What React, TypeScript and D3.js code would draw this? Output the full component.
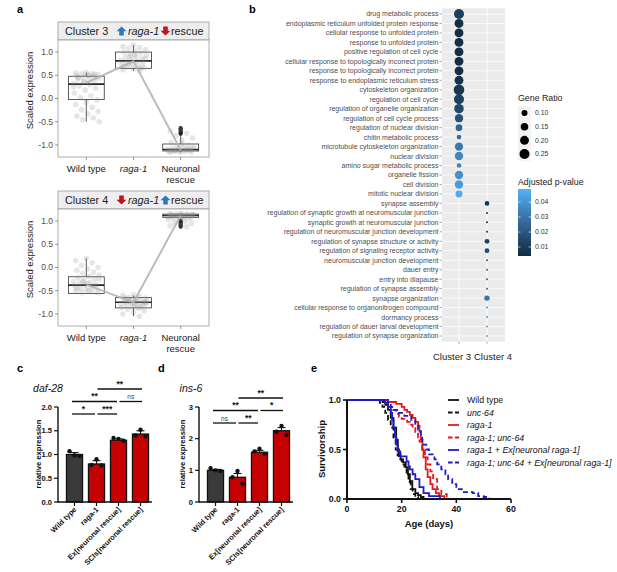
import React from "react";
import * as d3 from "d3";

const FONT = "Liberation Sans, Arial, Helvetica, sans-serif";

// ---------------- Panel a data ----------------
const groupsA = ["Wild type", "raga-1", "Neuronal rescue"];

const c3Q1 = [-0.02, 0.65, -1.13];
const c3Median = [0.31, 0.81, -1.1];
const c3Q3 = [0.48, 1.0, -0.98];
const c3Low = [-0.5, 0.6, -1.16];
const c3High = [0.56, 1.15, -0.8];
const c3Mean = [0.34, 0.8, -1.11];
const c3Outliers = [[], [], [-0.64, -0.67, -0.7, -0.73, -0.76]];
const c3PtsWT = [0.56, 0.55, 0.54, 0.53, 0.52, 0.5, 0.49, 0.47, 0.46, 0.44, 0.42, 0.41, 0.38, 0.36, 0.33, 0.3, 0.27, 0.22, 0.18, 0.12, 0.06, 0.02, -0.03, -0.08, -0.13, -0.19, -0.24, -0.28, -0.33, -0.38, -0.42, -0.46, -0.5, 0.5, 0.45, 0.52, 0.35, 0.25];
const c3PtsRaga = [1.15, 1.12, 1.1, 1.08, 1.05, 1.02, 1.0, 0.98, 0.96, 0.93, 0.9, 0.88, 0.86, 0.84, 0.82, 0.8, 0.78, 0.76, 0.74, 0.72, 0.7, 0.68, 0.66, 0.64, 0.62, 0.6, 0.75, 0.85, 0.95, 0.7, 0.65, 0.9];
const c3PtsNeur = [-0.65, -0.7, -0.75, -0.8, -0.85, -0.9, -0.95, -1.0, -1.02, -1.04, -1.06, -1.08, -1.09, -1.1, -1.1, -1.11, -1.12, -1.12, -1.13, -1.13, -1.14, -1.14, -1.15, -1.15, -1.16, -1.1, -1.12, -1.08, -0.98, -1.12];

const c4Q1 = [-0.56, -0.87, 1.08];
const c4Median = [-0.38, -0.75, 1.12];
const c4Q3 = [-0.2, -0.65, 1.15];
const c4Low = [-0.56, -1.05, 1.02];
const c4High = [0.2, -0.6, 1.17];
const c4Mean = [-0.37, -0.75, 1.12];
const c4Outliers = [[], [], [0.88, 0.91, 0.94, 0.97, 1.0]];
const c4PtsWT = [0.2, 0.15, 0.1, 0.05, 0.0, -0.03, -0.06, -0.1, -0.13, -0.16, -0.19, -0.22, -0.25, -0.28, -0.3, -0.32, -0.34, -0.36, -0.38, -0.4, -0.42, -0.44, -0.46, -0.48, -0.5, -0.52, -0.54, -0.55, -0.35, -0.45, -0.4, -0.3, -0.25, -0.5];
const c4PtsRaga = [-0.58, -0.6, -0.62, -0.64, -0.66, -0.68, -0.7, -0.71, -0.72, -0.73, -0.74, -0.75, -0.76, -0.77, -0.78, -0.79, -0.8, -0.82, -0.84, -0.86, -0.88, -0.9, -0.93, -0.96, -1.0, -1.05, -0.7, -0.75, -0.8, -0.65, -0.85, -0.72, -0.78, -0.68];
const c4PtsNeur = [1.17, 1.16, 1.15, 1.15, 1.14, 1.14, 1.13, 1.13, 1.12, 1.12, 1.11, 1.11, 1.1, 1.1, 1.09, 1.08, 1.07, 1.06, 1.05, 1.03, 1.0, 0.97, 0.95, 0.92, 0.9, 0.88, 1.12, 1.14, 1.1, 1.13];
const yTicksA = [-1, -0.5, 0, 0.5, 1];

// ---------------- Panel b data ----------------
const terms3 = [
  "drug metabolic process",
  "endoplasmic reticulum unfolded protein response",
  "cellular response to unfolded protein",
  "response to unfolded protein",
  "positive regulation of cell cycle",
  "cellular response to topologically incorrect protein",
  "response to topologically incorrect protein",
  "response to endoplasmic reticulum stress",
  "cytoskeleton organization",
  "regulation of cell cycle",
  "regulation of organelle organization",
  "regulation of cell cycle process",
  "regulation of nuclear division",
  "chitin metabolic process",
  "microtubule cytoskeleton organization",
  "nuclear division",
  "amino sugar metabolic process",
  "organelle fission",
  "cell division",
  "mitotic nuclear division",
];
const ratio3 = [0.25, 0.2, 0.2, 0.2, 0.2, 0.2, 0.2, 0.2, 0.28, 0.25, 0.23, 0.18, 0.12, 0.065, 0.18, 0.18, 0.065, 0.18, 0.18, 0.13];
const padj3 = [0.011, 0.005, 0.005, 0.005, 0.005, 0.005, 0.005, 0.006, 0.008, 0.011, 0.014, 0.018, 0.025, 0.028, 0.031, 0.035, 0.034, 0.039, 0.042, 0.047];
const terms4 = [
  "synapse assembly",
  "regulation of synaptic growth at neuromuscular junction",
  "synaptic growth at neuromuscular junction",
  "regulation of neuromuscular junction development",
  "regulation of synapse structure or activity",
  "regulation of signaling receptor activity",
  "neuromuscular junction development",
  "dauer entry",
  "entry into diapause",
  "regulation of synapse assembly",
  "synapse organization",
  "cellular response to organonitrogen compound",
  "dormancy process",
  "regulation of dauer larval development",
  "regulation of synapse organization",
];
const ratio4 = [0.065, 0.025, 0.025, 0.025, 0.07, 0.07, 0.025, 0.025, 0.025, 0.025, 0.085, 0.025, 0.025, 0.025, 0.025];
const padj4 = [0.008, 0.006, 0.006, 0.008, 0.012, 0.018, 0.022, 0.024, 0.024, 0.025, 0.03, 0.038, 0.04, 0.044, 0.046];
const clustersB = ["Cluster 3", "Cluster 4"];
const legendRatios = [0.1, 0.15, 0.2, 0.25];
const legendP = [0.01, 0.02, 0.03, 0.04];

// ---------------- Panel c / d data ----------------
const qpcrGroups = ["Wild type", "raga-1", "Ex[neuronal rescue]", "SCIs[neuronal rescue]"];
const dafMeans = [1.0, 0.8, 1.3, 1.43];
const dafErr = [0.04, 0.07, 0.03, 0.07];
const dafPts = [[1.07, 0.98, 0.97], [0.78, 0.9, 0.77], [1.35, 1.33, 1.29], [1.4, 1.52, 1.38]];
const dafTicks = [0, 0.5, 1.0, 1.5, 2.0];
const dafSig: [number, number, string, number][] = [
  [0, 1, "*", 0], [1, 2, "***", 0], [0, 2, "**", 1], [2, 3, "ns", 1], [1, 3, "**", 2],
];
const insMeans = [1.0, 0.78, 1.57, 2.25];
const insErr = [0.03, 0.12, 0.06, 0.1];
const insPts = [[1.07, 1.0, 0.98], [0.78, 0.98, 0.58], [1.6, 1.68, 1.52], [2.22, 2.4, 2.12]];
const insTicks = [0, 1, 2, 3];
const insSig: [number, number, string, number][] = [
  [0, 1, "ns", 0], [1, 2, "**", 0], [0, 2, "**", 1], [2, 3, "*", 1], [1, 3, "**", 2],
];

// ---------------- Panel e data ----------------
const wtDays = [0, 11, 13, 14, 15, 16, 17, 18, 18.6, 19, 19.6, 20.5, 21.5, 22.3, 23, 23.9, 25, 26, 27, 28];
const wtSurv = [1, 1, 0.98, 0.95, 0.9, 0.82, 0.72, 0.6, 0.5, 0.45, 0.4, 0.37, 0.32, 0.25, 0.18, 0.1, 0.06, 0.04, 0.02, 0];
const uncDays = [0, 11, 12, 13, 14, 15, 16, 17, 17.8, 18.5, 19, 20, 21, 21.8, 22.5, 23.3, 24, 25, 26];
const uncSurv = [1, 1, 0.97, 0.93, 0.87, 0.8, 0.72, 0.6, 0.5, 0.44, 0.4, 0.35, 0.3, 0.25, 0.17, 0.1, 0.05, 0.02, 0];
const ragaDays = [0, 12, 15, 18, 20, 21, 22, 23, 24, 25, 26, 26.5, 27, 27.6, 28, 28.8, 29.5, 30.5, 31.3, 32.5, 33.7, 35.6];
const ragaSurv = [1, 1, 0.98, 0.96, 0.93, 0.9, 0.88, 0.85, 0.82, 0.78, 0.74, 0.68, 0.6, 0.5, 0.42, 0.3, 0.22, 0.15, 0.1, 0.06, 0.03, 0];
const ragaUncDays = [0, 12, 14, 16, 17, 18, 19, 20, 21, 22, 23, 24, 25, 26, 26.5, 27.5, 28.5, 29.5, 30.5, 31.5, 33, 34.5, 36.5];
const ragaUncSurv = [1, 1, 0.97, 0.93, 0.9, 0.86, 0.83, 0.81, 0.8, 0.78, 0.75, 0.72, 0.67, 0.62, 0.58, 0.5, 0.42, 0.35, 0.28, 0.2, 0.1, 0.05, 0];
const ragaExDays = [0, 12, 14, 15, 16, 16.5, 17, 17.5, 18, 18.5, 19.5, 21.8, 22.5, 23, 24, 25, 26.5, 28, 30, 34];
const ragaExSurv = [1, 1, 0.97, 0.93, 0.87, 0.8, 0.72, 0.63, 0.55, 0.48, 0.43, 0.38, 0.33, 0.3, 0.25, 0.2, 0.12, 0.06, 0.03, 0];
const ragaUncExDays = [0, 13, 15, 16, 17, 19, 21, 23.5, 25, 26, 27, 27.5, 29, 30, 32, 33, 34.5, 36, 37, 38.5, 40, 42, 46, 48, 50, 52];
const ragaUncExSurv = [1, 1, 0.97, 0.93, 0.9, 0.87, 0.84, 0.8, 0.75, 0.7, 0.62, 0.55, 0.5, 0.45, 0.4, 0.35, 0.3, 0.25, 0.2, 0.15, 0.1, 0.07, 0.06, 0.03, 0.02, 0];
const survLabels = ["Wild type", "unc-64", "raga-1", "raga-1; unc-64", "raga-1 + Ex[neuronal raga-1]", "raga-1; unc-64 + Ex[neuronal raga-1]"];
const survColors = ["#111111", "#111111", "#e8171b", "#e8171b", "#1c1cc8", "#1c1cc8"];
const survDashed = [false, true, false, true, false, true];
const survDays = [wtDays, uncDays, ragaDays, ragaUncDays, ragaExDays, ragaUncExDays];
const survVals = [wtSurv, uncSurv, ragaSurv, ragaUncSurv, ragaExSurv, ragaUncExSurv];
const ageTicks = [0, 20, 40, 60];
const survTicks = [0, 0.5, 1.0];

// ---------------- helpers ----------------
function BlockArrow({ cx, top, up, color }: { cx: number; top: number; up: boolean; color: string }) {
  const h = 9, hw = 5, sw = 2.3, hh = 4.8;
  let pts: [number, number][];
  if (up) {
    pts = [[cx, top], [cx + hw, top + hh], [cx + sw, top + hh], [cx + sw, top + h], [cx - sw, top + h], [cx - sw, top + hh], [cx - hw, top + hh]];
  } else {
    const b = top + h;
    pts = [[cx, b], [cx + hw, b - hh], [cx + sw, b - hh], [cx + sw, top], [cx - sw, top], [cx - sw, b - hh], [cx - hw, b - hh]];
  }
  return <polygon points={pts.map((p) => p.join(",")).join(" ")} fill={color} />;
}

function jit(i: number) {
  return ((i * 37 + 11) % 23) / 22 - 0.5;
}

type BoxProps = {
  stripTop: number; plotTop: number; plotBottom: number; cluster: string; ragaUp: boolean;
  q1: number[]; med: number[]; q3: number[]; lo: number[]; hi: number[]; means: number[];
  outliers: number[][]; pts: number[][];
};

function BoxPanel(p: BoxProps) {
  const left = 58, right = 209;
  const x = d3.scalePoint<string>().domain(groupsA).range([left, right]).padding(0.6);
  const y = d3.scaleLinear().domain([-1.26, 1.26]).range([p.plotBottom, p.plotTop]);
  const step = x.step();
  const bw = step * 0.76;
  const line = d3.line<number>().x((_, i) => x(groupsA[i])!).y((d) => y(d));
  const blue = "#2e78c0", red = "#c8101c";
  const tb = p.stripTop + 13;
  return (
    <g>
      <rect x={left} y={p.stripTop} width={right - left} height={p.plotTop - p.stripTop} fill="#eeeeee" stroke="#9a9a9a" strokeWidth={0.8} />
      <text x={65} y={tb} fontSize={10.8} fill="#1a1a1a">Cluster {p.cluster}</text>
      <BlockArrow cx={121.5} top={p.stripTop + 4.5} up={p.ragaUp} color={p.ragaUp ? blue : red} />
      <text x={128} y={tb} fontSize={10.8} fontStyle="italic" fill="#1a1a1a">raga-1</text>
      <BlockArrow cx={165.5} top={p.stripTop + 4.5} up={!p.ragaUp} color={p.ragaUp ? red : blue} />
      <text x={171} y={tb} fontSize={10.8} fill="#1a1a1a">rescue</text>
      <rect x={left} y={p.plotTop} width={right - left} height={p.plotBottom - p.plotTop} fill="#fff" stroke="#9a9a9a" strokeWidth={0.8} />
      {yTicksA.map((t) => (
        <g key={t}>
          <line x1={left - 3} x2={left} y1={y(t)} y2={y(t)} stroke="#555" strokeWidth={0.6} />
          <text x={left - 5} y={y(t)} dy="0.35em" textAnchor="end" fontSize={8.5} fill="#4d4d4d">{t.toFixed(1)}</text>
        </g>
      ))}
      <text transform={`translate(${33},${(p.stripTop + p.plotBottom) / 2 + 1}) rotate(-90)`} textAnchor="middle" fontSize={9.5} fill="#1a1a1a">Scaled expression</text>
      {groupsA.map((g, i) => {
        const cx = x(g)!;
        return (
          <g key={g}>
            <line x1={cx} x2={cx} y1={y(p.q3[i])} y2={y(p.hi[i])} stroke="#333" strokeWidth={0.8} />
            <line x1={cx} x2={cx} y1={y(p.q1[i])} y2={y(p.lo[i])} stroke="#333" strokeWidth={0.8} />
            <rect x={cx - bw / 2} y={y(p.q3[i])} width={bw} height={y(p.q1[i]) - y(p.q3[i])} fill="#fff" stroke="#333" strokeWidth={0.8} />
            <line x1={cx - bw / 2} x2={cx + bw / 2} y1={y(p.med[i])} y2={y(p.med[i])} stroke="#222" strokeWidth={1.6} />
            {p.outliers[i].map((v, k) => (
              <circle key={k} cx={cx} cy={y(v)} r={2.1} fill="#222" />
            ))}
            {p.pts[i].map((v, k) => (
              <circle key={"p" + k} cx={cx + jit(k) * step * 0.55} cy={y(v)} r={2.8} fill="#8c8c8c" fillOpacity={0.22} />
            ))}
            <line x1={cx} x2={cx} y1={p.plotBottom} y2={p.plotBottom + 3} stroke="#555" strokeWidth={0.6} />
          </g>
        );
      })}
      <path d={line(p.means)!} fill="none" stroke="#b5b5b5" strokeWidth={2} strokeOpacity={0.9} />
      <text x={x(groupsA[0])} y={p.plotBottom + 15} textAnchor="middle" fontSize={9.5} fill="#1a1a1a">Wild type</text>
      <text x={x(groupsA[1])} y={p.plotBottom + 15} textAnchor="middle" fontSize={9.5} fontStyle="italic" fill="#1a1a1a">raga-1</text>
      <text x={x(groupsA[2])} y={p.plotBottom + 15} textAnchor="middle" fontSize={9.5} fill="#1a1a1a">Neuronal</text>
      <text x={x(groupsA[2])} y={p.plotBottom + 25.5} textAnchor="middle" fontSize={9.5} fill="#1a1a1a">rescue</text>
    </g>
  );
}

function DotPanel() {
  const terms = [...terms3, ...terms4];
  const ratios = [...ratio3, ...ratio4];
  const padj = [...padj3, ...padj4];
  const cl = [...terms3.map(() => clustersB[0]), ...terms4.map(() => clustersB[1])];
  const y = d3.scalePoint<string>().domain(terms).range([14, 336]);
  const x = d3.scalePoint<string>().domain(clustersB).range([459, 487]);
  const area = d3.scaleLinear().domain([0.1, 0.25]).range([9, 25]);
  const rad = (v: number) => Math.sqrt(Math.max(area(v), 0.8));
  const col = d3.scaleLinear<string>().domain([0.004, 0.0487]).range(["#132B43", "#56B1F7"]).interpolate(d3.interpolateLab).clamp(true);
  const py0 = 8.3, py1 = 341.7, px0 = 442, px1 = 505;
  const cy = d3.scaleLinear().domain([0.004, 0.0487]).range([256, 189]);
  const keyY = [113, 126.7, 140.3, 154];
  return (
    <g>
      <rect x={px0} y={py0} width={px1 - px0} height={py1 - py0} fill="#ebebeb" />
      {terms.map((t) => (
        <line key={"g" + t} x1={px0} x2={px1} y1={y(t)} y2={y(t)} stroke="#fff" strokeWidth={0.7} />
      ))}
      {clustersB.map((c) => (
        <line key={c} x1={x(c)} x2={x(c)} y1={py0} y2={py1} stroke="#fff" strokeWidth={0.9} />
      ))}
      {terms.map((t) => (
        <g key={t}>
          <line x1={px0 - 2.5} x2={px0} y1={y(t)} y2={y(t)} stroke="#555" strokeWidth={0.5} />
          <text x={px0 - 3.5} y={y(t)} dy="0.35em" textAnchor="end" fontSize={7} fill="#4d4d4d">{t}</text>
        </g>
      ))}
      {terms.map((t, i) => (
        <circle key={"c" + t} cx={x(cl[i])} cy={y(t)} r={rad(ratios[i])} fill={col(padj[i])} />
      ))}
      {clustersB.map((c) => (
        <line key={"t" + c} x1={x(c)} x2={x(c)} y1={py1} y2={py1 + 2.5} stroke="#555" strokeWidth={0.5} />
      ))}
      <text x={471} y={359.5} textAnchor="end" fontSize={9.5} fill="#1a1a1a">Cluster 3</text>
      <text x={474} y={359.5} textAnchor="start" fontSize={9.5} fill="#1a1a1a">Cluster 4</text>
      <text x={518} y={101} fontSize={8.8} fill="#1a1a1a">Gene Ratio</text>
      {legendRatios.map((r, i) => (
        <g key={r}>
          <rect x={518} y={keyY[i] - 6.8} width={13} height={13.6} fill="#f2f2f2" />
          <circle cx={524.5} cy={keyY[i]} r={rad(r)} fill="#000" />
          <text x={535} y={keyY[i]} dy="0.35em" fontSize={6.8} fill="#333">{r.toFixed(2)}</text>
        </g>
      ))}
      <text x={518} y={185} fontSize={8.8} fill="#1a1a1a">Adjusted p-value</text>
      <defs>
        <linearGradient id="pgrad" x1="0" y1="1" x2="0" y2="0">
          <stop offset="0%" stopColor={col(0.004)} />
          <stop offset="25%" stopColor={col(0.004 + 0.25 * 0.0447)} />
          <stop offset="50%" stopColor={col(0.004 + 0.5 * 0.0447)} />
          <stop offset="75%" stopColor={col(0.004 + 0.75 * 0.0447)} />
          <stop offset="100%" stopColor={col(0.0487)} />
        </linearGradient>
      </defs>
      <rect x={518} y={189} width={13} height={67} fill="url(#pgrad)" />
      {legendP.map((v) => (
        <g key={v}>
          <line x1={518} x2={520.5} y1={cy(v)} y2={cy(v)} stroke="#fff" strokeWidth={0.6} />
          <line x1={528.5} x2={531} y1={cy(v)} y2={cy(v)} stroke="#fff" strokeWidth={0.6} />
          <text x={535} y={cy(v)} dy="0.35em" fontSize={6.8} fill="#333">{v.toFixed(2)}</text>
        </g>
      ))}
    </g>
  );
}

type BarProps = {
  axisX: number; title: string; titleX: number; labelX: number; domainMax: number; ticks: number[]; tickFmt: (v: number) => string;
  means: number[]; err: number[]; pts: number[][]; sig: [number, number, string, number][]; sigBase: number;
};

function BarPanel(p: BarProps) {
  const base = 502, top = 407;
  const y = d3.scaleLinear().domain([0, p.domainMax]).range([base, top]);
  const x = d3.scaleBand<string>().domain(qpcrGroups).range([p.axisX + 5.5, p.axisX + 93.5]).paddingInner(0.27).paddingOuter(0.135);
  const bw = x.bandwidth();
  const c = (i: number) => x(qpcrGroups[i])! + bw / 2;
  const offs = [-5, 0, 5];
  return (
    <g>
      <text x={p.titleX} y={392} textAnchor="middle" fontSize={10.5} fontStyle="italic" fill="#111">{p.title}</text>
      <text transform={`translate(${p.labelX},${454}) rotate(-90)`} textAnchor="middle" fontSize={7.6} fontWeight="bold" fill="#111">relative expression</text>
      {p.ticks.map((t) => (
        <g key={t}>
          <line x1={p.axisX - 4} x2={p.axisX} y1={y(t)} y2={y(t)} stroke="#111" strokeWidth={1.2} />
          <text x={p.axisX - 6} y={y(t)} dy="0.35em" textAnchor="end" fontSize={7.6} fontWeight="bold" fill="#111">{p.tickFmt(t)}</text>
        </g>
      ))}
      {qpcrGroups.map((g, i) => (
        <g key={g}>
          <line x1={c(i)} x2={c(i)} y1={y(p.means[i])} y2={y(p.means[i] + p.err[i])} stroke="#111" strokeWidth={1.1} />
          <line x1={c(i) - 4} x2={c(i) + 4} y1={y(p.means[i] + p.err[i])} y2={y(p.means[i] + p.err[i])} stroke="#111" strokeWidth={1.1} />
          <rect x={x(g)} y={y(p.means[i])} width={bw} height={base - y(p.means[i])} fill={i === 0 ? "#3a3a3a" : "#c40000"} stroke="#111" strokeWidth={1.3} />
          {p.pts[i].map((v, k) => (
            <circle key={k} cx={c(i) + offs[k]} cy={y(v)} r={2.2} fill="#111" />
          ))}
          <line x1={c(i)} x2={c(i)} y1={base} y2={base + 4} stroke="#111" strokeWidth={1.2} />
          <text transform={`translate(${c(i) + 2.5},${base + 8}) rotate(-45)`} textAnchor="end" fontSize={7.4} fontWeight="bold" fill="#111">{g}</text>
        </g>
      ))}
      <line x1={p.axisX} x2={p.axisX} y1={base + 0.6} y2={top} stroke="#111" strokeWidth={1.4} />
      <line x1={p.axisX} x2={p.axisX + 94} y1={base} y2={base} stroke="#111" strokeWidth={1.4} />
      {p.sig.map(([a, b, lab, lev], k) => {
        const yy = p.sigBase - lev * 12.5;
        const x1 = a === 0 ? c(a) - 2.5 : c(a) + 1;
        const x2 = b === 3 ? c(b) + 1.5 : c(b) - 1.5;
        return (
          <g key={k}>
            <line x1={x1} x2={x2} y1={yy} y2={yy} stroke="#111" strokeWidth={1.3} />
            <text x={(x1 + x2) / 2} y={yy - 2.5} textAnchor="middle" fontSize={lab === "ns" ? 6.5 : 8.5} fontWeight={lab === "ns" ? "normal" : "bold"} fill={lab === "ns" ? "#444" : "#111"}>{lab}</text>
          </g>
        );
      })}
    </g>
  );
}

function SurvPanel() {
  const x = d3.scaleLinear().domain([0, 60]).range([347, 511]);
  const y = d3.scaleLinear().domain([0, 1]).range([499, 400]);
  const legY = [400, 412.5, 425, 437.5, 450, 462.5];
  return (
    <g>
      {survDays.map((days, s) => {
        const line = d3.line<number>().x((d) => x(d)).y((_, i) => y(survVals[s][i])).curve(d3.curveStepAfter);
        return (
          <path key={s} d={line(days)!} fill="none" stroke={survColors[s]} strokeWidth={1.8} strokeDasharray={survDashed[s] ? "5,3" : undefined} />
        );
      })}
      <line x1={347} x2={347} y1={400} y2={500} stroke="#111" strokeWidth={2} />
      <line x1={346} x2={511} y1={499} y2={499} stroke="#111" strokeWidth={2} />
      {survTicks.map((t) => (
        <g key={t}>
          <line x1={343} x2={347} y1={y(t)} y2={y(t)} stroke="#111" strokeWidth={1.6} />
          <text x={341} y={y(t)} dy="0.35em" textAnchor="end" fontSize={8.8} fontWeight="bold" fill="#111">{t.toFixed(1)}</text>
        </g>
      ))}
      {ageTicks.map((t) => (
        <g key={t}>
          <line x1={x(t)} x2={x(t)} y1={499} y2={503} stroke="#111" strokeWidth={1.6} />
          <text x={x(t)} y={511.5} textAnchor="middle" fontSize={8.8} fontWeight="bold" fill="#111">{t}</text>
        </g>
      ))}
      <text x={429} y={527} textAnchor="middle" fontSize={9.5} fontWeight="bold" fill="#111">Age (days)</text>
      <text transform={`translate(${324.5},${449}) rotate(-90)`} textAnchor="middle" fontSize={9.5} fontWeight="bold" fill="#111">Survivorship</text>
      {survLabels.map((l, i) => (
        <g key={l}>
          <line x1={448} x2={459} y1={legY[i]} y2={legY[i]} stroke={survColors[i]} strokeWidth={1.8} strokeDasharray={survDashed[i] ? "4.5,2.5" : undefined} />
          <text x={467} y={legY[i]} dy="0.35em" fontSize={8.8} fontStyle={i === 0 ? "normal" : "italic"} fill="#111">{l}</text>
        </g>
      ))}
    </g>
  );
}

export default function App() {
  return (
    <svg width={617} height={572} style={{ position: "absolute", left: 0, top: 0, background: "#fff" }} fontFamily={FONT}>
      <rect x={0} y={0} width={617} height={572} fill="#fff" />
      <text x={17} y={13} fontSize={11} fontWeight="bold">a</text>
      <text x={249} y={13} fontSize={11} fontWeight="bold">b</text>
      <text x={17} y={372} fontSize={11} fontWeight="bold">c</text>
      <text x={158} y={372} fontSize={11} fontWeight="bold">d</text>
      <text x={311} y={372} fontSize={11} fontWeight="bold">e</text>
      <BoxPanel stripTop={22} plotTop={40} plotBottom={157} cluster="3" ragaUp={true}
        q1={c3Q1} med={c3Median} q3={c3Q3} lo={c3Low} hi={c3High} means={c3Mean} outliers={c3Outliers}
        pts={[c3PtsWT, c3PtsRaga, c3PtsNeur]} />
      <BoxPanel stripTop={191} plotTop={209} plotBottom={326} cluster="4" ragaUp={false}
        q1={c4Q1} med={c4Median} q3={c4Q3} lo={c4Low} hi={c4High} means={c4Mean} outliers={c4Outliers}
        pts={[c4PtsWT, c4PtsRaga, c4PtsNeur]} />
      <DotPanel />
      <BarPanel axisX={58} title="daf-28" titleX={48} labelX={41} domainMax={2} ticks={dafTicks} tickFmt={(v) => v.toFixed(1)}
        means={dafMeans} err={dafErr} pts={dafPts} sig={dafSig} sigBase={414} />
      <BarPanel axisX={199} title="ins-6" titleX={191} labelX={185} domainMax={3} ticks={insTicks} tickFmt={(v) => String(v)}
        means={insMeans} err={insErr} pts={insPts} sig={insSig} sigBase={423} />
      <SurvPanel />
    </svg>
  );
}
